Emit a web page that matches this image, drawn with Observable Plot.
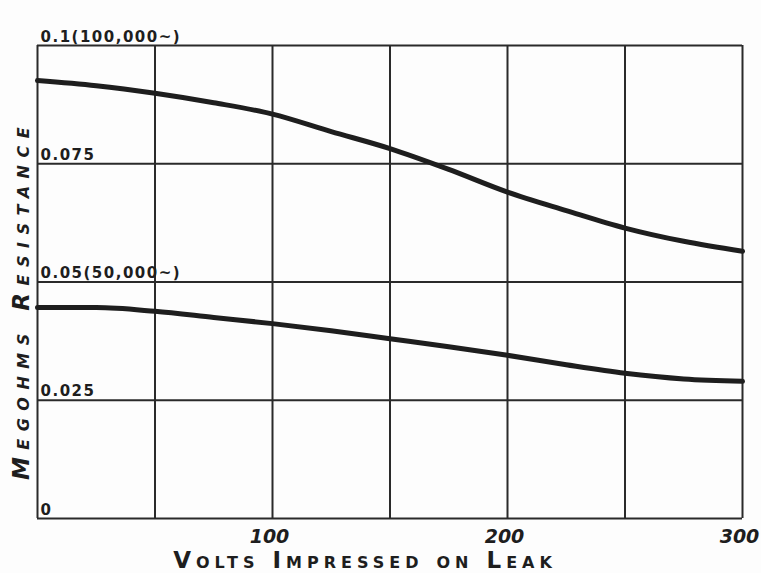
<!DOCTYPE html>
<html>
<head>
<meta charset="utf-8">
<script src="https://cdn.jsdelivr.net/npm/d3@7"></script>
<script src="https://cdn.jsdelivr.net/npm/@observablehq/plot@0.6"></script>
<style>
  html, body { margin: 0; padding: 0; background: #fdfdfd; }
  svg { display: block; }
</style>
</head>
<body>
<div id="chart"></div>
<script>
// Volts impressed on leak
const volts = [0, 25, 50, 75, 100, 125, 150, 175, 200, 225, 250, 275, 300];
// Megohms resistance, 100,000 ~ curve
const upper = [0.0926, 0.0915, 0.0899, 0.0879, 0.0855, 0.0818, 0.0782, 0.0738, 0.0690, 0.0651, 0.0614, 0.0586, 0.0565];
// Megohms resistance, 50,000 ~ curve
const lower = [0.0446, 0.0446, 0.0438, 0.0425, 0.0412, 0.0397, 0.0380, 0.0363, 0.0345, 0.0325, 0.0307, 0.0295, 0.0290];

const xGrid = [0, 50, 100, 150, 200, 250, 300];
const yGrid = [0, 0.025, 0.05, 0.075, 0.1];
const xTicks = [100, 200, 300];
const xTickLabels = ["100", "200", "300"];
const yTicks = [0, 0.025, 0.05, 0.075, 0.1];
const yTickLabels = ["0", "0.025", "0.05(50,000~)", "0.075", "0.1(100,000~)"];
const xTitle = "Volts Impressed on Leak";
const yTitle = "Megohms Resistance";

const series = [
  ...volts.map((v, i) => ({volts: v, r: upper[i], s: "100,000~"})),
  ...volts.map((v, i) => ({volts: v, r: lower[i], s: "50,000~"}))
];

const ink = "#1e1e1e";
const font = "'DejaVu Sans', sans-serif";

const chart = Plot.plot({
  width: 761,
  height: 573,
  marginLeft: 37,
  marginRight: 19,
  marginTop: 45,
  marginBottom: 55,
  style: {background: "#fdfdfd", fontFamily: font, color: ink},
  x: {domain: [0, 300], axis: null},
  y: {domain: [0, 0.1], axis: null},
  marks: [
    Plot.ruleX(xGrid, {stroke: "#2a2a2a", strokeWidth: 2}),
    Plot.ruleY(yGrid, {stroke: "#2a2a2a", strokeWidth: 2}),
    Plot.line(series, {x: "volts", y: "r", z: "s", stroke: ink, strokeWidth: 5, curve: "monotone-x", strokeLinecap: "round"}),
    Plot.text(yTicks, {
      x: 0, y: d => d, text: (d, i) => yTickLabels[i],
      textAnchor: "start", lineAnchor: "bottom", dx: 3, dy: -4,
      fontSize: 15, fontWeight: "bold", fill: ink
    }),
    Plot.text(xTicks, {
      x: d => d, y: 0, text: (d, i) => xTickLabels[i],
      lineAnchor: "bottom", dy: 24, dx: -3,
      fontSize: 19, fontWeight: "bold", fontStyle: "italic", fill: ink
    }),
    Plot.text([xTitle], {
      frameAnchor: "bottom", lineAnchor: "bottom", dy: 49, dx: -25,
      fontSize: 23, fontWeight: "bold", fill: ink, fontVariant: "small-caps"
    }),
    Plot.text([yTitle], {
      frameAnchor: "left", rotate: -90, dx: -16, dy: 18, textAnchor: "middle",
      fontSize: 23, fontWeight: "bold", fill: ink, fontStyle: "italic", fontVariant: "small-caps"
    })
  ]
});

// letter spacing for the hand-lettered look
d3.select(chart).selectAll("text").each(function() {
  const t = this.textContent;
  if (t === xTitle) this.setAttribute("letter-spacing", 5);
  else if (t === yTitle) this.setAttribute("letter-spacing", 7.5);
  else if (yTickLabels.includes(t)) this.setAttribute("letter-spacing", 1.5);
});

document.getElementById("chart").appendChild(chart);
</script>
</body>
</html>
